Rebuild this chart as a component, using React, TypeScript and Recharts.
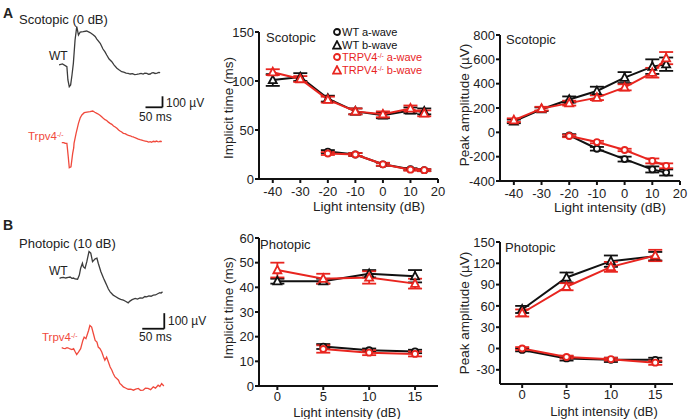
import { ErrorBar, Line, LineChart, ReferenceLine, XAxis, YAxis } from 'recharts'

const FONT = '"Liberation Sans", Arial, Helvetica, sans-serif'
const BLACK = '#111'
const RED = '#e8251f'
const TRACE_GRAY = '#3c3c3c'
const TRACE_RED = '#f0493c'
const TEXT = '#222'

// ---- scotopic series (light intensity in dB) ----
const scotX = [-40, -30, -20, -10, 0, 10, 15]
const scotAX = [-20, -10, 0, 10, 15]

const scotTimeWtB = [101, 104, 82, 69, 65, 70, 69]
const scotTimeWtBErr = [6, 4, 3, 3, 3, 3, 3]
const scotTimeKoB = [109, 102, 81, 69, 66, 72, 67]
const scotTimeKoBErr = [3, 3, 3, 3, 3, 3, 3]
const scotTimeWtA = [28, 25, 15, 10, 9]
const scotTimeWtAErr = [1.5, 1.5, 1.5, 1, 1]
const scotTimeKoA = [26, 25, 15, 9.5, 9]
const scotTimeKoAErr = [1.5, 1.5, 1.5, 1, 1]

const scotAmpWtB = [90, 190, 270, 340, 450, 540, 560]
const scotAmpWtBErr = [15, 15, 25, 35, 45, 60, 55]
const scotAmpKoB = [100, 195, 240, 285, 370, 490, 610]
const scotAmpKoBErr = [15, 15, 20, 20, 25, 40, 50]
const scotAmpWtA = [-25, -135, -220, -305, -330]
const scotAmpWtAErr = [10, 15, 20, 25, 25]
const scotAmpKoA = [-30, -80, -145, -235, -275]
const scotAmpKoAErr = [10, 10, 10, 20, 20]

// ---- photopic series ----
const photX = [0, 5, 10, 15]
const photAX = [5, 10, 15]

const photTimeWtB = [42.5, 42.5, 45.5, 44.5]
const photTimeWtBErr = [1, 1, 1.5, 2.5]
const photTimeKoB = [47, 43.5, 44, 41.5]
const photTimeKoBErr = [3, 2, 2.5, 2]
const photTimeWtA = [16, 14.5, 14]
const photTimeWtAErr = [1, 0.7, 0.7]
const photTimeKoA = [15, 13.5, 13]
const photTimeKoAErr = [1.5, 1, 1]

const photAmpWtB = [55, 100, 123, 130]
const photAmpWtBErr = [5, 7, 8, 6]
const photAmpKoB = [50, 87, 115, 131]
const photAmpKoBErr = [5, 5, 7, 8]
const photAmpWtA = [-2, -14, -16, -16]
const photAmpWtAErr = [2, 3, 3, 3]
const photAmpKoA = [0, -12, -15, -20]
const photAmpKoAErr = [2, 2, 2, 3]

// ---- ERG traces: [time ms, amplitude µV] ----
const wtScotTrace: [number, number][] = [
  [0, -9], [10, 0], [23, -25], [26, -145], [30, -206], [34, -190], [38, -100], [42, 6],
  [47, 218], [52, 340], [57, 264], [62, 290], [71, 294], [81, 300], [91, 286], [101, 264],
  [106, 250], [111, 227], [121, 188], [129, 136], [135, 110], [140, 82], [147, 45], [155, 21],
  [162, -10], [170, -39], [177, -55], [184, -70], [190, -74], [197, -82], [203, -86], [209, -91],
  [216, -88], [222, -96], [228, -94], [235, -90], [241, -86], [247, -92], [252, -84], [258, -85],
  [263, -93], [268, -91], [273, -80], [277, -79], [282, -86], [288, -82], [293, -76], [297, -79],
]
const koScotTrace: [number, number][] = [
  [8, 3], [13, 3], [18, -2], [23, -3], [25, -64], [27, -125], [30, -225], [35, -216],
  [40, -94], [43, -45], [44, -3], [50, 88], [57, 179], [62, 228], [67, 255], [74, 276],
  [82, 282], [91, 285], [99, 291], [105, 280], [111, 270], [116, 262], [121, 250], [126, 236],
  [130, 225], [135, 212], [140, 205], [145, 190], [150, 179], [155, 170], [160, 155], [165, 146],
  [170, 134], [175, 118], [179, 109], [184, 100], [189, 88], [194, 85], [199, 77], [204, 70],
  [209, 66], [214, 58], [218, 55], [223, 48], [228, 43], [233, 36], [238, 30], [243, 26],
  [248, 21], [253, 18], [258, 14], [263, 8], [268, 12], [272, 6], [277, 16], [282, 12],
  [287, 18], [291, 10], [294, 12], [298, 16], [302, 12],
]
const wtPhotTrace: [number, number][] = [
  [1, -2], [5, 2], [10, 4], [15, 0], [21, 4], [25, 6], [29, -2], [33, 0], [36, -6], [42, -8],
  [46, 19], [49, 62], [53, 94], [55, 72], [59, 62], [63, 104], [68, 169], [72, 158], [76, 104],
  [82, 122], [86, 126], [89, 94], [95, 40], [101, -2], [104, -20], [108, -45], [112, -70],
  [116, -88], [120, -100], [123, -109], [128, -118], [135, -130], [140, -136], [146, -141],
  [151, -148], [157, -158], [161, -147], [166, -138], [173, -130], [178, -134], [184, -126],
  [190, -128], [195, -118], [199, -120], [204, -114], [209, -116], [214, -109], [219, -108],
  [224, -100], [229, -94], [232, -96], [235, -88],
]
const koPhotTrace: [number, number][] = [
  [6, 4], [10, 0], [14, -2], [18, 4], [21, 2], [25, -4], [29, -8], [33, -2], [36, -19],
  [40, -40], [44, -24], [49, -2], [54, 51], [57, 72], [61, 62], [67, 115], [70, 147],
  [74, 137], [78, 94], [82, 51], [86, 40], [89, 8], [93, -2], [97, -24], [101, -56],
  [104, -77], [108, -56], [112, -88], [116, -120], [120, -141], [123, -162], [127, -184],
  [131, -194], [135, -205], [138, -226], [142, -236], [146, -248], [151, -255], [157, -263],
  [163, -262], [169, -269], [174, -262], [180, -258], [185, -270], [191, -269], [196, -256],
  [202, -258], [208, -266], [214, -248], [219, -256], [225, -237], [229, -246], [233, -226],
  [238, -242],
]

type Pt = { x: number; y: number; e: number }
type Shape = 'circle' | 'triangle'
interface Series { data: Pt[]; color: string; shape: Shape }

const pts = (xs: number[], ys: number[], es: number[]): Pt[] =>
  xs.map((x, i) => ({ x, y: ys[i], e: es[i] }))

const tracePts = (tr: [number, number][]) => tr.map(([t, v]) => ({ t, v }))

function Marker({ cx, cy, color, shape }: { cx: number; cy: number; color: string; shape: Shape }) {
  if (shape === 'triangle') {
    const s = 4
    return (
      <path
        d={`M${cx},${cy - s * 1.1}L${cx + s},${cy + s * 0.8}L${cx - s},${cy + s * 0.8}Z`}
        fill="#fff"
        stroke={color}
        strokeWidth={1.8}
      />
    )
  }
  return <circle cx={cx} cy={cy} r={3} fill="#fff" stroke={color} strokeWidth={1.8} />
}

interface PanelProps {
  plotLeft: number
  plotTop: number
  plotW: number
  plotH: number
  xDomain: [number, number]
  xTicks: number[]
  yDomain: [number, number]
  yTicks: number[]
  series: Series[]
  xTickGap?: number
}

function Panel({ plotLeft, plotTop, plotW, plotH, xDomain, xTicks, yDomain, yTicks, series, xTickGap = 4 }: PanelProps) {
  const yW = 45
  const mt = 10
  const mr = 16
  const xH = 30
  const tick = { fontSize: 13, fill: TEXT, fontFamily: FONT }
  return (
    <div style={{ position: 'absolute', left: plotLeft - yW, top: plotTop - mt }}>
      <LineChart
        width={yW + plotW + mr}
        height={mt + plotH + xH}
        margin={{ top: mt, right: mr, bottom: 0, left: 0 }}
      >
        <XAxis
          type="number"
          dataKey="x"
          domain={xDomain}
          ticks={xTicks}
          interval={0}
          allowDataOverflow
          height={xH}
          axisLine={{ stroke: BLACK, strokeWidth: 2 }}
          tickLine={{ stroke: BLACK, strokeWidth: 2 }}
          tickSize={4}
          tickMargin={xTickGap}
          tick={tick}
        />
        <YAxis
          type="number"
          domain={yDomain}
          ticks={yTicks}
          interval={0}
          allowDataOverflow
          width={yW}
          axisLine={{ stroke: BLACK, strokeWidth: 2 }}
          tickLine={{ stroke: BLACK, strokeWidth: 2 }}
          tickSize={4}
          tickMargin={1}
          tick={tick}
        />
        {series.map((s, i) => (
          <Line
            key={i}
            data={s.data}
            dataKey="y"
            stroke={s.color}
            strokeWidth={2}
            isAnimationActive={false}
            dot={(p: any) =>
              p.cy == null ? (
                <g key={`d${i}-${p.index}`} />
              ) : (
                <Marker key={`d${i}-${p.index}`} cx={p.cx} cy={p.cy} color={s.color} shape={s.shape} />
              )
            }
            activeDot={false}
          >
            <ErrorBar dataKey="e" direction="y" width={7} stroke={s.color} strokeWidth={1.8} />
          </Line>
        ))}
      </LineChart>
    </div>
  )
}

interface TraceProps {
  left: number
  top: number
  width: number
  height: number
  xDomain: [number, number]
  yDomain: [number, number]
  trace: [number, number][]
  color: string
  bar?: { t: number; v: number; ms: number; uv: number }
}

function Trace({ left, top, width, height, xDomain, yDomain, trace, color, bar }: TraceProps) {
  return (
    <div style={{ position: 'absolute', left, top }}>
      <LineChart width={width} height={height} margin={{ top: 0, right: 0, bottom: 0, left: 0 }}>
        <XAxis type="number" dataKey="t" domain={xDomain} hide allowDataOverflow />
        <YAxis type="number" domain={yDomain} hide allowDataOverflow />
        <Line
          data={tracePts(trace)}
          dataKey="v"
          stroke={color}
          strokeWidth={1.3}
          dot={false}
          activeDot={false}
          isAnimationActive={false}
        />
        {bar && (
          <ReferenceLine
            segment={[{ x: bar.t - bar.ms, y: bar.v }, { x: bar.t, y: bar.v }]}
            stroke={BLACK}
            strokeWidth={1.8}
          />
        )}
        {bar && (
          <ReferenceLine
            segment={[{ x: bar.t, y: bar.v }, { x: bar.t, y: bar.v + bar.uv }]}
            stroke={BLACK}
            strokeWidth={1.8}
          />
        )}
      </LineChart>
    </div>
  )
}

function Txt({
  x, y, children, size = 13, color = TEXT, bold = false, anchor = 'left', rotate = false,
}: {
  x: number; y: number; children: React.ReactNode; size?: number; color?: string
  bold?: boolean; anchor?: 'left' | 'center'; rotate?: boolean
}) {
  const tx = anchor === 'center' ? '-50%' : '0'
  return (
    <div
      style={{
        position: 'absolute',
        left: x,
        top: y,
        transform: `translate(${tx}, -50%)${rotate ? ' rotate(-90deg)' : ''}`,
        fontFamily: FONT,
        fontSize: size,
        fontWeight: bold ? 700 : 400,
        color,
        whiteSpace: 'nowrap',
        lineHeight: 1,
      }}
    >
      {children}
    </div>
  )
}

const Sup = () => (
  <span style={{ fontSize: '0.6em', position: 'relative', top: '-0.4em' }}>-/-</span>
)

function LegendRow({ y, color, shape, children }: { y: number; color: string; shape: Shape; children: React.ReactNode }) {
  return (
    <>
      <svg style={{ position: 'absolute', left: 332, top: y - 5 }} width={10} height={10}>
        <Marker cx={5} cy={shape === 'triangle' ? 5.5 : 5} color={color} shape={shape} />
      </svg>
      <Txt x={342} y={y} color={color} size={11}>{children}</Txt>
    </>
  )
}

export default function App() {
  const scotTime: Series[] = [
    { data: pts(scotX, scotTimeWtB, scotTimeWtBErr), color: BLACK, shape: 'triangle' },
    { data: pts(scotAX, scotTimeWtA, scotTimeWtAErr), color: BLACK, shape: 'circle' },
    { data: pts(scotX, scotTimeKoB, scotTimeKoBErr), color: RED, shape: 'triangle' },
    { data: pts(scotAX, scotTimeKoA, scotTimeKoAErr), color: RED, shape: 'circle' },
  ]
  const scotAmp: Series[] = [
    { data: pts(scotX, scotAmpWtB, scotAmpWtBErr), color: BLACK, shape: 'triangle' },
    { data: pts(scotAX, scotAmpWtA, scotAmpWtAErr), color: BLACK, shape: 'circle' },
    { data: pts(scotX, scotAmpKoB, scotAmpKoBErr), color: RED, shape: 'triangle' },
    { data: pts(scotAX, scotAmpKoA, scotAmpKoAErr), color: RED, shape: 'circle' },
  ]
  const photTime: Series[] = [
    { data: pts(photX, photTimeWtB, photTimeWtBErr), color: BLACK, shape: 'triangle' },
    { data: pts(photAX, photTimeWtA, photTimeWtAErr), color: BLACK, shape: 'circle' },
    { data: pts(photX, photTimeKoB, photTimeKoBErr), color: RED, shape: 'triangle' },
    { data: pts(photAX, photTimeKoA, photTimeKoAErr), color: RED, shape: 'circle' },
  ]
  const photAmp: Series[] = [
    { data: pts(photX, photAmpWtB, photAmpWtBErr), color: BLACK, shape: 'triangle' },
    { data: pts(photX, photAmpWtA, photAmpWtAErr), color: BLACK, shape: 'circle' },
    { data: pts(photX, photAmpKoB, photAmpKoBErr), color: RED, shape: 'triangle' },
    { data: pts(photX, photAmpKoA, photAmpKoAErr), color: RED, shape: 'circle' },
  ]

  return (
    <div style={{ position: 'absolute', left: 0, top: 0, width: 694, height: 419, background: '#fff', overflow: 'hidden' }}>
      {/* panel A: scotopic traces */}
      <Txt x={3} y={13} size={14} bold>A</Txt>
      <Txt x={19} y={19}>Scotopic (0 dB)</Txt>
      <Trace left={56} top={20} width={114} height={77} xDomain={[-9, 326]} yDomain={[-300, 400]}
        trace={wtScotTrace} color={TRACE_GRAY} />
      <Trace left={56} top={93} width={114} height={83} xDomain={[-9, 326]} yDomain={[-300, 455]}
        trace={koScotTrace} color={TRACE_RED} bar={{ t: 304, v: 325, ms: 50, uv: 100 }} />
      <Txt x={49} y={56} size={12}>WT</Txt>
      <Txt x={28} y={137} size={11.5} color={TRACE_RED}>Trpv4<Sup /></Txt>
      <Txt x={166} y={102.5} size={12}>100 µV</Txt>
      <Txt x={139} y={117} size={12}>50 ms</Txt>

      {/* panel B: photopic traces */}
      <Txt x={3} y={225} size={14} bold>B</Txt>
      <Txt x={19} y={242.5}>Photopic (10 dB)</Txt>
      <Trace left={56} top={245} width={114} height={66} xDomain={[-7, 252]} yDomain={[-210, 210]}
        trace={wtPhotTrace} color={TRACE_GRAY} />
      <Trace left={56} top={311} width={114} height={84} xDomain={[-7, 252]} yDomain={[-300, 240]}
        trace={koPhotTrace} color={TRACE_RED} bar={{ t: 239, v: 126, ms: 50, uv: 100 }} />
      <Txt x={49} y={271} size={12}>WT</Txt>
      <Txt x={42} y={337.5} size={11.5} color={TRACE_RED}>Trpv4<Sup /></Txt>
      <Txt x={168} y={321} size={12}>100 µV</Txt>
      <Txt x={139} y={337} size={12}>50 ms</Txt>

      {/* scotopic implicit time */}
      <Panel plotLeft={259} plotTop={32} plotW={179} plotH={147} xDomain={[-45, 20]}
        xTicks={[-40, -30, -20, -10, 0, 10, 20]} yDomain={[0, 150]} yTicks={[0, 50, 100, 150]} series={scotTime} />
      <Txt x={266} y={37}>Scotopic</Txt>
      <Txt x={229} y={108} size={13.5} anchor="center" rotate>Implicit time (ms)</Txt>
      <Txt x={369} y={206.5} size={13.5} anchor="center">Light intensity (dB)</Txt>
      <LegendRow y={32} color={BLACK} shape="circle">WT a-wave</LegendRow>
      <LegendRow y={44.5} color={BLACK} shape="triangle">WT b-wave</LegendRow>
      <LegendRow y={57} color={RED} shape="circle">TRPV4<Sup /> a-wave</LegendRow>
      <LegendRow y={69.5} color={RED} shape="triangle">TRPV4<Sup /> b-wave</LegendRow>

      {/* scotopic peak amplitude */}
      <Panel plotLeft={500} plotTop={35} plotW={180} plotH={146} xDomain={[-45, 20]}
        xTicks={[-40, -30, -20, -10, 0, 10, 20]} yDomain={[-400, 800]}
        yTicks={[-400, -200, 0, 200, 400, 600, 800]} series={scotAmp} />
      <Txt x={506} y={39}>Scotopic</Txt>
      <Txt x={465} y={105} size={13.5} anchor="center" rotate>Peak amplitude (µV)</Txt>
      <Txt x={610} y={208} size={13.5} anchor="center">Light intensity (dB)</Txt>

      {/* photopic implicit time */}
      <Panel plotLeft={259} plotTop={238} plotW={179} plotH={148} xDomain={[-2, 17.5]}
        xTicks={[0, 5, 10, 15]} yDomain={[0, 60]} yTicks={[0, 10, 20, 30, 40, 50, 60]} series={photTime}
        xTickGap={2} />
      <Txt x={260} y={244}>Photopic</Txt>
      <Txt x={229} y={308} size={13.5} anchor="center" rotate>Implicit time (ms)</Txt>
      <Txt x={347} y={411.5} size={13} anchor="center">Light intensity (dB)</Txt>

      {/* photopic peak amplitude */}
      <Panel plotLeft={500} plotTop={242} plotW={173} plotH={142} xDomain={[-2.5, 17]}
        xTicks={[0, 5, 10, 15]} yDomain={[-50, 150]} yTicks={[-30, 0, 30, 60, 90, 120, 150]} series={photAmp}
        xTickGap={2} />
      <Txt x={505} y={247}>Photopic</Txt>
      <Txt x={465} y={313} size={13.5} anchor="center" rotate>Peak amplitude (µV)</Txt>
      <Txt x={604} y={410.5} size={13} anchor="center">Light intensity (dB)</Txt>
    </div>
  )
}
